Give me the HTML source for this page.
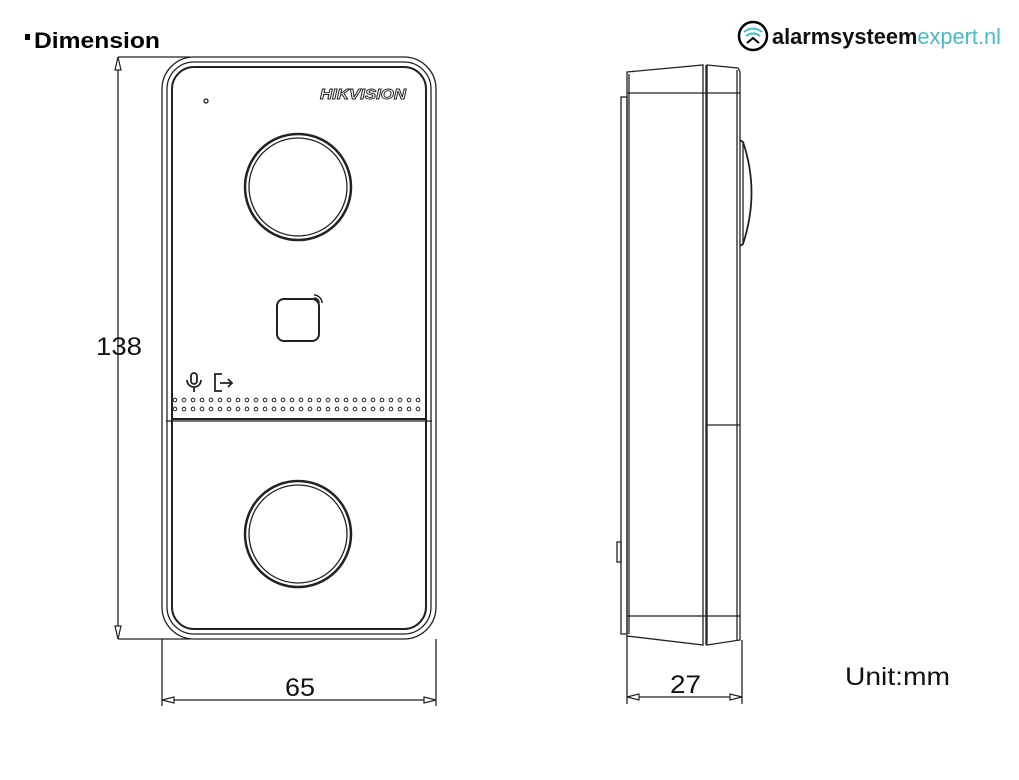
<!DOCTYPE html>
<html><head><style>
html,body{margin:0;padding:0;background:#fff;}
svg{display:block}
</style></head><body>
<svg width="1019" height="780" viewBox="0 0 1019 780" xmlns="http://www.w3.org/2000/svg" font-family="Liberation Sans, sans-serif">
<!-- title -->
<rect x="25" y="34" width="5" height="6" fill="#000"/>
<text x="34" y="48" font-size="22" font-weight="bold" fill="#000" textLength="126" lengthAdjust="spacingAndGlyphs">Dimension</text>
<!-- logo -->
<circle cx="753" cy="36" r="14" fill="none" stroke="#000" stroke-width="2.5"/>
<path d="M744 32 q9 -7 18 0 M746 36 q7 -5 14 0" fill="none" stroke="#4ab8c8" stroke-width="2"/>
<path d="M747 43 l6 -5 l6 5" fill="none" stroke="#000" stroke-width="2"/>
<text x="772" y="44" font-size="22" font-weight="bold" fill="#111" textLength="229" lengthAdjust="spacingAndGlyphs">alarmsysteem<tspan font-weight="normal" fill="#4ab8c8">expert.nl</tspan></text>

<g fill="none" stroke="#222" stroke-width="1.3">
<!-- front view -->
<rect x="162" y="57" width="274" height="582" rx="32"/>
<rect x="167" y="62" width="264" height="572" rx="27"/>
<rect x="172" y="67" width="254" height="562" rx="22" stroke-width="2"/>
<line x1="172" y1="419" x2="426" y2="419" stroke-width="2"/>
<line x1="166" y1="421" x2="432" y2="421"/>
<circle cx="298" cy="187" r="53" stroke-width="2.5"/>
<circle cx="298" cy="187" r="49"/>
<circle cx="298" cy="534" r="53" stroke-width="2.5"/>
<circle cx="298" cy="534" r="49"/>
<circle cx="206" cy="101" r="2"/>
<rect x="277" y="299" width="42" height="42" rx="7" stroke-width="2"/>
<path d="M314 295 a8 8 0 0 1 8 8 M314 298 a5 5 0 0 1 5 5" stroke-width="1.5"/>
<!-- mic -->
<rect x="191" y="373" width="6" height="11" rx="3" stroke-width="1.8"/>
<path d="M187 380 a7 7 0 0 0 14 0 M194 387 v5" stroke-width="1.8"/>
<!-- exit -->
<path d="M222 374 h-7 v17 h7 M220 383 h12 M228 379 l4 4 l-4 4" stroke-width="1.8"/>
<!-- dimension lines front -->
<line x1="118" y1="57" x2="190" y2="57"/>
<line x1="118" y1="639" x2="190" y2="639"/>
<line x1="118" y1="57" x2="118" y2="639"/>
<line x1="162" y1="639" x2="162" y2="706"/>
<line x1="436" y1="639" x2="436" y2="706"/>
<line x1="162" y1="700" x2="436" y2="700"/>
<!-- side view -->
<rect x="621" y="97" width="6" height="537"/>
<path d="M627 72 L703 65 L703 645 L627 636 Z"/>
<line x1="629" y1="74" x2="629" y2="634"/>
<line x1="627" y1="93" x2="740" y2="93"/>
<line x1="627" y1="616" x2="740" y2="616"/>
<path d="M707 65 L738 68 L740 72 L740 640 L707 645 Z"/>
<line x1="706" y1="65" x2="706" y2="645"/>
<line x1="737" y1="70" x2="737" y2="640"/>
<line x1="707" y1="425" x2="740" y2="425"/>
<path d="M740 140 L743 142 Q760 192 743 244 L740 246" stroke-width="1.8"/>
<line x1="743" y1="142" x2="743" y2="244"/>
<rect x="617" y="542" width="4" height="20"/>
<line x1="627" y1="636" x2="627" y2="704"/>
<line x1="742" y1="640" x2="742" y2="704"/>
<line x1="627" y1="697" x2="742" y2="697"/>
</g>
<!-- arrowheads -->
<g fill="#fff" stroke="#222" stroke-width="1.2">
<path d="M118 57 l-3 13 h6 z"/>
<path d="M118 639 l-3 -13 h6 z"/>
<path d="M162 700 l12 -3 v6 z"/>
<path d="M436 700 l-12 -3 v6 z"/>
<path d="M627 697 l12 -3 v6 z"/>
<path d="M742 697 l-12 -3 v6 z"/>
</g>
<text x="320" y="99" font-size="15" font-weight="bold" font-style="italic" fill="#fff" stroke="#222" stroke-width="0.9" textLength="86" lengthAdjust="spacingAndGlyphs">HIKVISION</text>
<g fill="none" stroke="#333" stroke-width="1.1">
<g id="row1">
<circle cx="175" cy="400" r="1.8"/><circle cx="184" cy="400" r="1.8"/><circle cx="193" cy="400" r="1.8"/><circle cx="202" cy="400" r="1.8"/><circle cx="211" cy="400" r="1.8"/><circle cx="220" cy="400" r="1.8"/><circle cx="229" cy="400" r="1.8"/><circle cx="238" cy="400" r="1.8"/><circle cx="247" cy="400" r="1.8"/><circle cx="256" cy="400" r="1.8"/><circle cx="265" cy="400" r="1.8"/><circle cx="274" cy="400" r="1.8"/><circle cx="283" cy="400" r="1.8"/><circle cx="292" cy="400" r="1.8"/><circle cx="301" cy="400" r="1.8"/><circle cx="310" cy="400" r="1.8"/><circle cx="319" cy="400" r="1.8"/><circle cx="328" cy="400" r="1.8"/><circle cx="337" cy="400" r="1.8"/><circle cx="346" cy="400" r="1.8"/><circle cx="355" cy="400" r="1.8"/><circle cx="364" cy="400" r="1.8"/><circle cx="373" cy="400" r="1.8"/><circle cx="382" cy="400" r="1.8"/><circle cx="391" cy="400" r="1.8"/><circle cx="400" cy="400" r="1.8"/><circle cx="409" cy="400" r="1.8"/><circle cx="418" cy="400" r="1.8"/>
</g>
<use href="#row1" y="9"/>
</g>
<g font-size="25" fill="#111">
<text x="96" y="355" textLength="46" lengthAdjust="spacingAndGlyphs">138</text>
<text x="285" y="696" textLength="30" lengthAdjust="spacingAndGlyphs">65</text>
<text x="670" y="693" textLength="31" lengthAdjust="spacingAndGlyphs">27</text>
<text x="845" y="685" textLength="105" lengthAdjust="spacingAndGlyphs">Unit:mm</text>
</g>
</svg>
</body></html>
